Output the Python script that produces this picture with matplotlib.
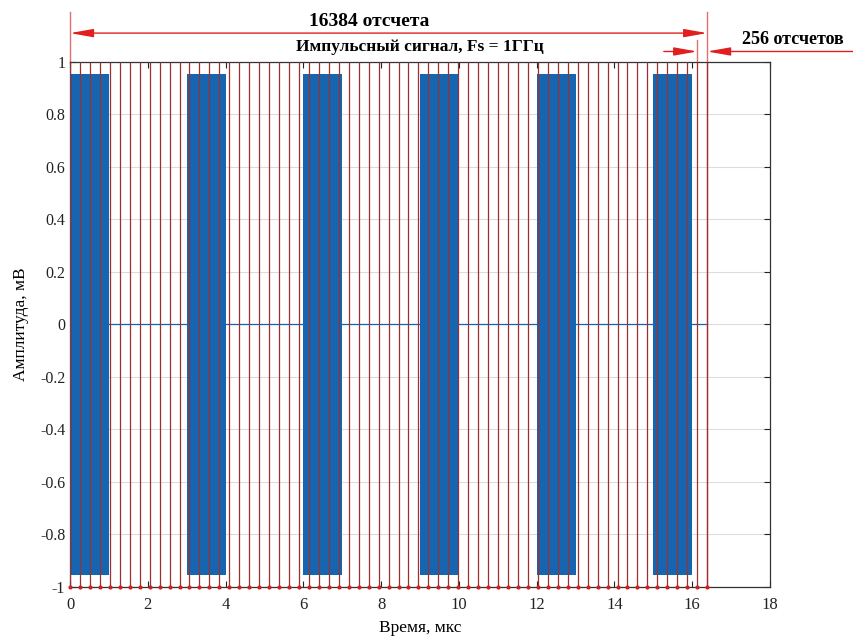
import numpy as np
import matplotlib
matplotlib.use("Agg")
import matplotlib.pyplot as plt

plt.rcParams['font.family'] = ['Liberation Serif', 'DejaVu Serif']
plt.rcParams['axes.unicode_minus'] = False

# signal parameters (from the chart labels)
n_total = 16384          # отсчетов
n_frame = 256            # отсчетов в кадре
fs_ghz = 1.0             # Fs = 1 ГГц -> 1 отсчет = 1 нс

# pulses: start times (мкс), width (мкс), amplitude (мВ)
pulse_starts = [0, 3, 6, 9, 12, 15]
pulse_width = 1.0
pulse_amp = 0.955

t_end = n_total / fs_ghz / 1000.0          # 16.384 мкс
frame_us = n_frame / fs_ghz / 1000.0       # 0.256 мкс
frame_marks = np.arange(0, n_total + 1, n_frame) / fs_ghz / 1000.0

blue = '#1565b0'
dark_red = '#9e2f2f'
light_red = '#e07070'


def fmt(v, p):
    v = round(v, 1) + 0.0
    return '%g' % v if v != 0 else '0'


fig = plt.figure(figsize=(8.54, 6.37), dpi=100)
ax = fig.add_axes([0.082, 0.0785, 0.8196, 0.8242])

# zero line and pulses
ax.plot([0, t_end], [0, 0], color=blue, lw=0.9, zorder=2)
for s in pulse_starts:
    ax.fill_between([s, s + pulse_width], -pulse_amp, pulse_amp,
                    color=blue, lw=0, zorder=2)

# frame boundaries
ax.vlines(frame_marks, -1, 1, color=dark_red, lw=0.9, zorder=3)
ax.plot(frame_marks, np.full(len(frame_marks), -1.0), 'o',
        color='#d02020', ms=2.0, zorder=4, clip_on=False)

ax.set_xlim(0, 18)
ax.set_ylim(-1, 1)
ax.set_xticks(np.arange(0, 19, 2))
ax.set_yticks(np.round(np.arange(-1, 1.01, 0.2), 1))
ax.yaxis.set_major_formatter(matplotlib.ticker.FuncFormatter(fmt))
ax.grid(axis='y', color='#dcdcdc', lw=0.8)
ax.set_axisbelow(True)
ax.tick_params(direction='in', top=True, right=True, labelsize=11.5,
               length=4, colors='#222222')
ax.tick_params(axis='x', pad=7, labelsize=12)
for sp in ax.spines.values():
    sp.set_color('#333333')
    sp.set_linewidth(0.9)

ax.set_xlabel('Время, мкс', fontsize=12.5, labelpad=5)
ax.set_ylabel('Амплитуда, мВ', fontsize=12.5, labelpad=8)
ax.set_title('Импульсный сигнал, Fs = 1ГГц', fontsize=12.5, fontweight='bold', pad=8)

# annotations above the axes
ax.plot([0, 0], [1, 1.19], color=light_red, lw=1, clip_on=False)
ax.plot([t_end, t_end], [-1, 1.19], color=light_red, lw=1, clip_on=False)
ax.plot([t_end - frame_us, t_end - frame_us], [1, 1.085], color=light_red, lw=1, clip_on=False)

arrow = dict(arrowstyle='<|-|>,head_length=1.4,head_width=0.25', color='#e02020',
             lw=1, shrinkA=0, shrinkB=0)
ax.annotate('', xy=(0, 1.11), xytext=(t_end, 1.11), arrowprops=arrow,
            annotation_clip=False)
ax.text(t_end / 2 - 0.5, 1.155, '%d отсчета' % n_total, ha='center', va='center',
        fontsize=14, fontweight='bold')

one = dict(arrowstyle='-|>,head_length=1.4,head_width=0.25', color='#e02020',
           lw=1, shrinkA=0, shrinkB=0)
ax.annotate('', xy=(t_end - frame_us, 1.04), xytext=(15.27, 1.04), arrowprops=one,
            annotation_clip=False)
ax.annotate('', xy=(t_end, 1.04), xytext=(20.2, 1.04), arrowprops=one,
            annotation_clip=False)
ax.text(18.6, 1.085, '%d отсчетов' % n_frame, ha='center', va='center',
        fontsize=13, fontweight='bold')

fig.savefig('out.png', dpi=100)
